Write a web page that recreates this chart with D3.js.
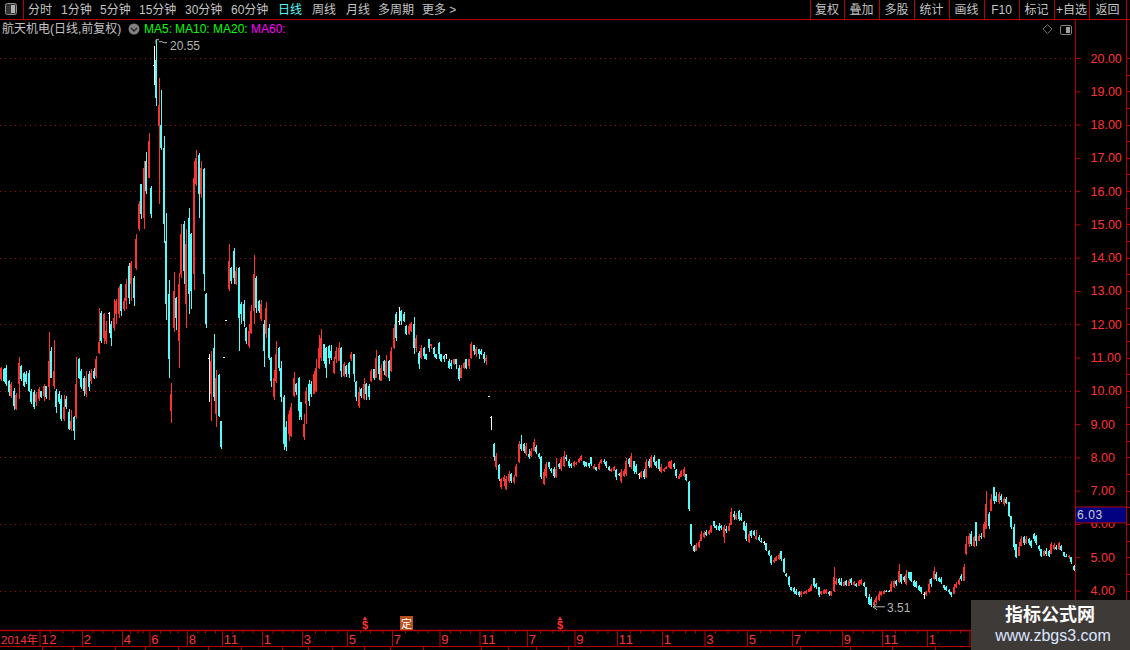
<!DOCTYPE html>
<html>
<head>
<meta charset="utf-8">
<style>
html, body { margin: 0; padding: 0; background: #000; overflow: hidden; }
svg { display: block; font-family: "Liberation Sans", "Noto Sans CJK SC", sans-serif; }
</style>
<script src="https://cdnjs.cloudflare.com/ajax/libs/d3/7.8.5/d3.min.js"></script>
</head>
<body>
<div id="chart"></div>
<script>
// [open, high, low, close], one array per stretch of the chart
var bars1 = [[10.35,10.73,10.3,10.7],[10.65,10.7,10.25,10.3],[10.7,10.78,10.15,10.2],[10.3,10.33,9.85,9.95],[9.85,10.27,9.78,10.2],[10.0,10.08,9.43,9.55],[9.45,9.93,9.43,9.88],[10.2,11.03,9.75,10.85],[10.75,10.78,10.3,10.35],[10.55,10.58,10.1,10.15],
[10.5,10.6,10.2,10.25],[10.55,10.63,9.95,10.0],[10.0,10.05,9.6,9.65],[9.95,10.03,9.45,9.5],[9.65,9.95,9.55,9.9],[9.75,10.12,9.7,10.05],[10.0,10.0,9.78,9.8],[9.85,10.2,9.7,10.15],[10.15,10.15,9.75,9.8],[10.1,11.76,9.73,10.9],
[11.2,11.33,10.38,10.4],[10.15,11.53,10.05,10.6],[10.0,10.05,9.33,9.5],[9.9,9.98,9.6,9.65],[9.75,9.88,9.08,9.15],[9.15,9.88,9.1,9.5],[9.75,9.85,9.45,9.5],[9.35,9.45,8.83,8.85],[8.85,9.43,8.78,9.1],[9.2,9.25,8.53,8.8],
[9.2,11.03,9.15,10.2],[10.95,11.0,10.35,10.4],[10.6,10.65,10.05,10.1],[10.4,10.45,9.85,10.0],[9.9,10.6,9.8,10.4],[10.5,10.6,10.0,10.1],[10.3,10.65,10.2,10.55],[10.6,10.68,10.35,10.4],[10.45,11.05,10.4,10.95],[11.13,12.5,11.1,11.48]];
var bars2 = [[12.35,12.4,11.45,11.5],[11.6,12.35,11.4,12.3],[11.5,12.1,11.4,11.8],[12.35,12.38,11.75,12.35],[12.0,12.1,11.35,11.6],[11.9,12.75,11.8,12.2],[12.3,12.75,12.0,12.7],[12.3,13.15,12.2,13.1],[13.2,13.2,12.25,12.4],[12.45,12.8,12.4,12.7],
[12.7,13.35,12.45,13.2],[13.75,13.83,12.6,12.8],[13.2,13.9,12.7,13.85],[13.4,13.45,12.55,12.8],[13.7,14.7,13.63,14.55],[14.85,15.7,14.8,15.6],[16.2,16.2,15.15,15.3],[15.2,16.9,14.85,16.7],[16.9,17.18,15.9,16.0],[16.4,17.75,16.4,17.5],
[16.1,16.15,15.2,15.3],[19.8,20.35,19.2,19.8],[19.95,20.55,18.55,18.8],[17.95,19.4,15.6,18.6],[18.0,19.05,17.25,17.3],[17.3,17.65,14.45,15.0],[14.5,15.35,12.13,12.6],[12.9,13.33,10.4,10.95],[9.4,10.23,9.03,9.9],[11.9,13.58,11.78,13.0],
[12.8,12.83,11.83,12.2],[11.5,13.53,10.68,13.2],[13.5,15.0,13.4,14.7],[15.0,15.1,13.2,13.6],[12.6,14.85,11.9,14.4],[15.2,15.5,12.3,12.9],[14.7,14.75,12.45,13.0],[13.5,16.9,13.03,16.4],[16.2,17.25,16.15,17.0],[17.1,17.15,15.2,15.9]];
var bars3 = [[15.9,16.9,15.8,16.7],[16.65,16.7,13.0,13.5],[12.9,12.93,11.9,12.0],[11.0,11.1,9.65,11.0],[9.9,11.2,9.1,10.9],[11.3,11.7,9.7,9.8],[9.3,10.63,8.9,10.4],[10.48,10.5,9.2,9.25],[9.1,9.1,8.25,8.3],[11.03,11.03,11.03,11.03],
[12.13,12.13,12.13,12.13],[13.05,14.4,13.0,13.9],[13.7,13.73,13.2,13.3],[14.2,14.28,13.2,13.4],[13.2,13.73,13.18,13.6],[13.7,13.73,11.2,12.2],[12.6,12.68,12.0,12.3],[12.6,12.73,11.93,12.1],[11.9,11.93,11.4,11.5],[11.35,12.0,11.28,11.8],
[11.75,12.57,11.7,12.4],[12.4,14.08,12.0,13.5],[13.4,13.45,12.35,12.5],[12.7,12.72,12.35,12.4],[12.15,12.72,12.1,12.6],[12.0,12.12,10.72,11.2],[11.7,12.67,11.6,12.5],[11.9,12.02,10.92,11.0],[11.0,11.02,10.12,10.3],[9.8,10.62,9.72,10.4],
[10.3,11.49,10.22,11.1],[11.3,11.32,10.6,10.7],[10.7,10.9,9.67,9.8],[9.8,9.87,8.22,8.4],[8.9,9.1,8.18,8.3],[8.7,9.42,8.5,9.3],[8.65,9.62,8.6,9.5],[9.85,10.57,9.8,10.4],[10.2,10.22,9.87,9.95],[10.4,10.42,9.12,9.4]];
var bars4 = [[9.65,9.67,9.12,9.2],[8.6,9.3,8.52,9.0],[9.6,10.12,9.0,10.0],[10.2,10.32,9.55,9.7],[10.2,10.3,9.8,9.9],[9.9,10.6,9.9,10.5],[10.0,10.97,9.97,10.7],[10.7,11.67,10.65,11.3],[11.0,11.85,10.9,11.6],[11.4,11.42,10.8,10.9],
[11.3,11.32,10.4,10.7],[11.35,11.37,10.82,11.0],[11.2,11.37,10.92,11.0],[10.55,11.02,10.52,10.9],[10.95,11.32,10.85,11.2],[10.9,11.47,10.9,11.3],[11.3,11.32,10.42,10.6],[10.45,10.87,10.42,10.8],[10.75,10.77,10.42,10.5],[10.85,10.87,10.37,10.5],
[10.95,11.17,10.9,11.1],[11.1,11.12,10.27,10.5],[10.25,10.3,9.7,9.8],[9.55,10.12,9.47,9.95],[10.05,10.07,9.77,9.85],[9.75,10.37,9.72,10.2],[10.2,10.22,9.72,9.9],[10.15,10.2,9.72,9.8],[10.3,10.67,10.27,10.6],[10.65,10.67,10.32,10.4],
[10.4,11.22,10.37,11.0],[11.05,11.07,10.32,10.5],[10.3,10.82,10.28,10.7],[10.9,10.92,10.47,10.6],[10.45,11.07,10.42,10.9],[10.9,10.92,10.28,10.4],[10.6,11.32,10.57,11.2],[11.3,12.02,11.27,11.9],[12.3,12.37,11.5,11.6],[12.1,12.52,11.97,12.1]];
var bars5 = [[12.4,12.42,11.97,12.1],[12.3,12.37,12.07,12.1],[11.95,11.97,11.67,11.7],[11.7,12.0,11.67,11.95],[11.8,12.07,11.77,12.05],[12.0,12.22,11.12,11.3],[11.3,11.67,11.17,11.6],[11.15,11.2,10.67,10.8],[11.0,11.37,10.97,11.3],[11.3,11.32,10.97,11.05],
[11.1,11.12,10.92,10.95],[11.55,11.57,11.17,11.3],[11.35,11.42,11.27,11.4],[11.3,11.32,11.02,11.1],[11.1,11.12,10.97,11.0],[11.45,11.47,10.97,11.1],[11.1,11.12,10.87,10.9],[11.05,11.07,10.87,10.95],[11.1,11.12,10.97,11.1],[10.9,10.97,10.67,10.7],
[10.85,10.92,10.67,10.75],[10.8,10.97,10.77,10.95],[10.95,10.97,10.67,10.8],[10.7,10.77,10.3,10.35],[10.4,10.77,10.37,10.7],[10.7,10.87,10.65,10.85],[10.95,10.97,10.67,10.7],[10.75,10.97,10.67,10.95],[11.0,11.47,10.97,11.4],[11.37,11.37,11.07,11.2],
[11.1,11.32,11.02,11.25],[11.25,11.27,10.97,11.1],[11.2,11.27,11.07,11.1],[11.1,11.17,10.85,10.95],[10.9,11.07,10.77,11.0],[9.85,9.85,9.85,9.85],[9.2,9.24,8.82,9.2],[8.4,8.42,7.88,8.0],[7.7,8.14,7.61,8.05],[7.78,7.79,7.29,7.35]];
var bars6 = [[7.1,7.39,7.04,7.35],[7.3,7.46,7.14,7.4],[7.05,7.44,7.01,7.35],[7.3,7.59,7.24,7.5],[7.5,7.54,7.22,7.3],[7.25,7.46,7.19,7.4],[7.45,7.79,7.4,7.75],[7.85,8.49,7.84,8.4],[8.4,8.66,8.19,8.25],[8.4,8.44,8.14,8.2],
[8.1,8.44,8.05,8.35],[8.1,8.24,7.94,8.0],[8.05,8.29,8.0,8.2],[8.2,8.54,8.19,8.45],[8.3,8.36,8.09,8.15],[8.1,8.14,7.95,8.0],[8.0,8.04,7.34,7.4],[7.2,7.66,7.18,7.55],[7.45,7.85,7.38,7.8],[7.85,7.86,7.64,7.7],
[7.65,7.69,7.54,7.6],[7.65,7.7,7.38,7.45],[7.4,7.98,7.38,7.65],[7.8,7.82,7.64,7.7],[7.65,8.0,7.6,7.95],[7.75,8.18,7.7,8.05],[8.0,8.06,7.89,7.95],[7.9,7.94,7.69,7.75],[7.8,7.84,7.69,7.75],[7.75,7.89,7.72,7.85],
[7.8,7.86,7.76,7.84],[7.85,7.99,7.82,7.95],[7.92,8.06,7.89,8.03],[7.88,7.89,7.72,7.78],[7.85,7.86,7.7,7.75],[7.82,7.84,7.68,7.75],[8.0,8.01,7.74,7.8],[7.65,7.8,7.64,7.75],[7.7,7.72,7.59,7.62],[7.64,7.86,7.62,7.8]];
var bars7 = [[7.82,7.94,7.8,7.92],[7.9,7.96,7.8,7.85],[7.85,7.89,7.69,7.75],[7.72,7.74,7.59,7.62],[7.6,7.68,7.56,7.66],[7.6,7.74,7.59,7.7],[7.62,7.66,7.32,7.4],[7.5,7.54,7.44,7.48],[7.3,7.64,7.24,7.55],[7.45,7.64,7.42,7.6],
[7.5,7.99,7.44,7.9],[7.95,7.99,7.7,7.8],[7.7,8.12,7.64,8.05],[7.88,7.89,7.49,7.6],[7.75,7.79,7.49,7.55],[7.5,7.54,7.34,7.5],[7.4,7.6,7.38,7.55],[7.6,7.64,7.34,7.4],[7.4,7.96,7.38,7.85],[7.9,7.94,7.69,7.75],
[7.7,8.06,7.68,8.0],[8.0,8.06,7.76,7.85],[7.85,7.89,7.69,7.75],[7.95,7.96,7.59,7.65],[7.55,7.79,7.54,7.7],[7.6,7.69,7.56,7.65],[7.65,7.74,7.64,7.72],[7.7,7.89,7.68,7.85],[7.65,7.92,7.64,7.88],[7.8,7.84,7.64,7.7],
[7.62,7.64,7.39,7.45],[7.35,7.49,7.34,7.45],[7.42,7.62,7.4,7.58],[7.45,7.72,7.42,7.65],[7.5,7.49,7.29,7.32],[7.25,7.28,6.39,6.45],[5.99,5.99,5.34,5.4],[5.35,5.38,5.16,5.2],[5.2,5.43,5.18,5.38],[5.3,5.52,5.28,5.45]];
var bars8 = [[5.5,5.78,5.48,5.7],[5.6,5.78,5.58,5.72],[5.75,5.83,5.63,5.68],[5.7,5.83,5.68,5.8],[5.75,5.98,5.73,5.93],[6.08,6.08,5.88,5.93],[5.95,5.98,5.83,5.88],[5.95,6.03,5.78,5.83],[5.95,5.98,5.83,5.88],[5.6,5.98,5.42,5.9],
[5.85,5.93,5.73,5.78],[5.8,6.03,5.78,5.95],[5.98,6.48,5.98,6.35],[6.3,6.38,6.13,6.2],[6.15,6.33,6.13,6.28],[6.4,6.43,6.08,6.15],[6.2,6.33,6.08,6.12],[6.05,6.08,5.78,5.82],[5.95,6.03,5.48,5.55],[5.45,5.78,5.43,5.7],
[5.8,5.83,5.58,5.65],[5.8,5.83,5.63,5.68],[5.55,5.83,5.53,5.65],[5.6,5.68,5.48,5.52],[5.5,5.58,5.43,5.47],[5.45,5.48,5.38,5.45],[5.42,5.43,5.18,5.22],[5.2,5.23,5.03,5.06],[5.05,5.07,4.77,4.82],[4.85,4.97,4.83,4.93],
[4.9,5.05,4.88,5.0],[4.95,5.13,4.93,5.08],[5.18,5.18,4.88,4.95],[4.95,4.97,4.52,4.56],[4.5,4.52,4.42,4.45],[4.4,4.43,4.12,4.18],[4.12,4.12,4.0,4.03],[4.08,4.1,3.9,3.95],[4.0,4.05,3.85,3.9],[3.95,4.0,3.8,3.85]];
var bars9 = [[3.85,4.0,3.8,3.95],[3.9,3.98,3.88,3.95],[3.92,4.02,3.9,3.98],[3.96,4.07,3.95,4.04],[4.0,4.2,3.98,4.15],[4.38,4.38,4.08,4.15],[4.2,4.22,4.05,4.1],[4.1,4.12,3.8,3.85],[3.88,4.0,3.85,3.97],[3.9,4.05,3.88,4.02],
[3.92,4.05,3.9,4.02],[3.95,3.97,3.83,3.88],[3.85,4.0,3.83,3.97],[3.97,4.72,3.96,4.4],[4.2,4.38,4.18,4.3],[4.35,4.38,4.18,4.22],[4.25,4.38,4.13,4.18],[4.15,4.3,4.13,4.25],[4.3,4.33,4.13,4.18],[4.15,4.35,4.13,4.3],
[4.35,4.38,4.18,4.22],[4.18,4.28,4.15,4.25],[4.2,4.23,4.1,4.14],[4.15,4.33,4.13,4.28],[4.2,4.35,4.18,4.32],[4.22,4.25,4.1,4.14],[4.1,4.12,3.78,3.82],[3.8,3.88,3.55,3.6],[3.75,3.8,3.51,3.56],[3.55,3.7,3.53,3.65],
[3.65,3.84,3.63,3.78],[3.7,3.98,3.68,3.9],[3.85,4.0,3.83,3.95],[3.9,4.03,3.88,4.0],[4.0,4.03,3.95,3.97],[4.0,4.03,3.95,3.98],[3.98,4.3,3.96,4.2],[4.1,4.32,4.08,4.28],[4.3,4.33,4.15,4.2],[4.25,4.8,4.23,4.6]];
var bars10 = [[4.5,4.5,4.2,4.25],[4.42,4.45,4.27,4.32],[4.2,4.62,4.18,4.5],[4.55,4.57,4.32,4.38],[4.55,4.57,4.25,4.3],[4.3,4.33,4.1,4.15],[4.25,4.28,4.08,4.12],[4.15,4.18,3.98,4.02],[4.1,4.1,3.9,3.95],[3.9,3.95,3.75,3.9],
[3.85,4.0,3.83,3.95],[3.95,4.35,3.93,4.2],[4.35,4.38,4.1,4.2],[4.35,4.72,4.33,4.6],[4.5,4.55,4.3,4.35],[4.38,4.4,4.25,4.3],[4.35,4.4,4.2,4.25],[4.18,4.18,4.03,4.07],[4.1,4.13,3.98,4.02],[4.03,4.05,3.9,3.94],
[3.95,3.95,3.8,3.85],[3.9,4.2,3.88,4.1],[4.1,4.25,4.08,4.2],[4.2,4.38,4.18,4.32],[4.45,4.5,4.3,4.35],[4.3,4.8,4.3,4.7],[5.1,5.63,5.08,5.4],[5.4,5.72,5.3,5.65],[5.7,5.8,5.35,5.4],[5.35,5.65,5.3,5.6],
[6.05,6.05,5.35,5.5],[5.5,5.7,5.48,5.65],[5.65,5.72,5.55,5.6],[5.6,6.05,5.58,6.0],[5.85,7.0,5.84,6.6],[6.3,6.35,5.85,5.95],[6.4,6.9,6.38,6.75],[7.1,7.1,6.6,6.7],[6.85,6.95,6.65,6.7],[6.65,6.95,6.6,6.9]];
var bars11 = [[6.85,6.9,6.65,6.72],[6.6,6.8,6.55,6.75],[6.75,6.8,6.6,6.62],[6.65,6.65,6.2,6.25],[6.25,6.25,5.85,5.9],[5.9,6.0,5.23,5.3],[5.4,5.4,4.98,5.02],[5.05,5.45,5.03,5.3],[5.35,5.65,5.33,5.55],[5.6,5.63,5.38,5.42],
[5.42,5.63,5.4,5.55],[5.55,5.58,5.38,5.42],[5.5,5.53,5.28,5.35],[5.7,5.72,5.5,5.55],[5.65,5.67,5.38,5.42],[5.35,5.37,5.2,5.25],[5.25,5.25,5.0,5.05],[5.05,5.22,5.03,5.18],[5.2,5.27,5.05,5.1],[5.2,5.22,5.02,5.05],
[5.1,5.45,5.1,5.4],[5.25,5.42,5.23,5.37],[5.3,5.38,5.22,5.25],[5.25,5.45,5.23,5.42],[5.35,5.38,5.18,5.22],[5.15,5.17,5.0,5.03],[5.05,5.1,5.0,5.03],[5.0,5.08,4.95,5.05],[5.0,5.0,4.8,4.85],[4.75,4.78,4.6,4.63]];

var priceTicks = [4,5,6,7,8,9,10,11,12,13,14,15,16,17,18,19,20];
var gridPrices = [4,6,8,10,12,14,16,18,20];
var monthLabels = ["12","2","4","6","8","11","1","3","5","7","9","11","7","9","11","1","3","5","7","9","11","1","3"];
var monthBars = [16,33,49,60,75,89,105,121,139,157,176,192,211,230,247,265,282,299,317,337,353,371,388];
var firstLabel = "2014年";
var menuLabels = ["分时","1分钟","5分钟","15分钟","30分钟","60分钟","日线","周线","月线","多周期","更多 >"];
var menuLefts = [28,61,100,139,185,231,278,312,346,378,422];
var buttonLabels = ["复权","叠加","多股","统计","画线","F10","标记","+自选","返回"];
var buttonEdges = [810,844,879,914,949,984,1019,1054,1089,1126];
var tabEdges = [42,73,115,145,178,208,241,282,308,332,364,390,423,481,508,536,568,800,850,892,935];
var maLabels = ["MA5:","MA10:","MA20:","MA60:"];
var maLefts = [144,175,213,251];
var maColors = ["#00ff00","#00ff00","#00ff00","#ff00ff"];
var dividendBars = [146,224];
var placementBar = 162;
var highMark = {bar: 62, price: 20.55};
var lowMark = {bar: 348, price: 3.51};
var cursorPrice = 6.03;

var bars = [].concat(bars1,bars2,bars3,bars4,bars5,bars6,bars7,bars8,bars9,bars10,bars11);

var totalWidth = 1130, totalHeight = 650, plotRight = 1075, axisTop = 630, axisBottom = 646;
var lineRed = "#b80000", textRed = "#ff3232", upRed = "#ff3232", downCyan = "#54fcfc", menuGrey = "#c4c4c4";

var x = d3.scaleBand().domain(d3.range(bars.length)).range([0, plotRight]);
var y = d3.scaleLinear().domain([4, 20]).range([590.5, 58]);

var svg = d3.select("#chart").append("svg").attr("width", totalWidth).attr("height", totalHeight);
svg.append("rect").attr("width", totalWidth).attr("height", totalHeight).attr("fill", "#000");

// dotted price grid
svg.append("g").selectAll("line").data(gridPrices).join("line")
    .attr("x1", 0).attr("x2", plotRight)
    .attr("y1", function(d) { return Math.round(y(d)) + 0.5; })
    .attr("y2", function(d) { return Math.round(y(d)) + 0.5; })
    .attr("stroke", "#a01010").attr("stroke-dasharray", "1,4");

// candles
function barColor(d) {
    if (d[3] > d[0]) return upRed;
    if (d[3] < d[0]) return downCyan;
    return "#ffffff";
}
var candle = svg.append("g").attr("shape-rendering", "crispEdges")
    .selectAll("g").data(bars).join("g");
candle.append("rect")
    .attr("x", function(d, i) { return Math.round(x(i) + x.bandwidth() / 2); })
    .attr("width", 1)
    .attr("y", function(d) { return y(d[1]); })
    .attr("height", function(d) { return Math.max(1, y(d[2]) - y(d[1])); })
    .attr("fill", barColor);
candle.append("rect")
    .attr("x", function(d, i) { return Math.round(x(i) + x.bandwidth() / 2) - 1; })
    .attr("width", 2)
    .attr("y", function(d) { return y(Math.max(d[0], d[3])); })
    .attr("height", function(d) { return Math.max(1, Math.abs(y(d[0]) - y(d[3]))); })
    .attr("fill", barColor);

// high and low notes
var hx = x(highMark.bar) + 1, hy = y(highMark.price);
svg.append("path")
    .attr("d", "M" + hx + "," + (hy + 4) + "v-4h3M" + (hx + 3) + "," + (hy + 2) + "l3,0l2,1l3,0")
    .attr("fill", "none").attr("stroke", "#b4b4b4");
svg.append("text").attr("x", hx + 14).attr("y", hy + 10).attr("fill", "#b4b4b4").attr("font-size", 12)
    .text(highMark.price.toFixed(2));
var lx = x(lowMark.bar) + 3, ly = y(lowMark.price);
svg.append("path")
    .attr("d", "M" + lx + "," + ly + "h12M" + (lx + 4) + "," + (ly - 3) + "l-4,3l4,3")
    .attr("fill", "none").attr("stroke", "#b4b4b4");
svg.append("text").attr("x", lx + 14).attr("y", ly + 5).attr("fill", "#b4b4b4").attr("font-size", 12)
    .text(lowMark.price.toFixed(2));

// price axis on the right
var yAxis = d3.axisRight(y).tickValues(priceTicks).tickSize(5).tickPadding(10).tickFormat(d3.format(".2f"));
var yG = svg.append("g").attr("transform", "translate(" + (plotRight + 0.5) + ",0)").call(yAxis);
yG.select(".domain").remove();
yG.selectAll("line").attr("stroke", lineRed);
yG.selectAll("text").attr("fill", textRed).attr("font-size", 12.5).attr("font-family", "Liberation Sans");
svg.append("line").attr("x1", plotRight + 0.5).attr("x2", plotRight + 0.5).attr("y1", 19).attr("y2", axisTop)
    .attr("stroke", lineRed);
svg.append("line").attr("x1", 1126.5).attr("x2", 1126.5).attr("y1", 19).attr("y2", axisTop).attr("stroke", lineRed);
svg.append("g").selectAll("line").data(d3.range(4, 20.5, 0.5)).join("line")
    .attr("x1", 1127).attr("x2", 1130)
    .attr("y1", function(d) { return Math.round(y(d)) + 0.5; })
    .attr("y2", function(d) { return Math.round(y(d)) + 0.5; })
    .attr("stroke", lineRed);

// cursor price box
var boxBottom = y(cursorPrice);
svg.append("rect").attr("x", 1075.5).attr("y", boxBottom - 16).attr("width", 51).attr("height", 16)
    .attr("fill", "#000080").attr("stroke", lineRed);
svg.append("text").attr("x", 1077).attr("y", boxBottom - 4).attr("fill", "#d0d0d0").attr("font-size", 12)
    .attr("letter-spacing", "0.6px").text(cursorPrice.toFixed(2));

// month axis at the bottom
var monthAxis = d3.axisBottom(x).tickValues(monthBars).tickSize(axisBottom - axisTop).tickPadding(-14)
    .tickFormat(function(d, i) { return monthLabels[i]; });
var xG = svg.append("g").attr("transform", "translate(0," + (axisTop + 0.5) + ")").call(monthAxis);
xG.select(".domain").remove();
xG.selectAll("line").attr("stroke", lineRed)
    .attr("transform", "translate(" + (-x.bandwidth() / 2) + ",0)");
xG.selectAll("text").attr("fill", textRed).attr("font-size", 13).attr("text-anchor", "start")
    .attr("letter-spacing", "0.8px").attr("dy", 0).attr("y", 13).attr("x", 0);
svg.append("text").attr("x", 1).attr("y", axisTop + 13.5).attr("fill", textRed).attr("font-size", 11.5).text(firstLabel);
svg.append("line").attr("x1", 0).attr("x2", totalWidth).attr("y1", axisTop + 0.5).attr("y2", axisTop + 0.5)
    .attr("stroke", lineRed).attr("stroke-width", 1.5);
svg.append("line").attr("x1", 0).attr("x2", totalWidth).attr("y1", axisBottom + 0.5).attr("y2", axisBottom + 0.5)
    .attr("stroke", lineRed);

// short ticks between the months
var shortTicks = [];
monthBars.forEach(function(b, i) {
    var next = monthBars[i + 1] || bars.length;
    shortTicks.push(b + (next - b) / 4, b + (next - b) / 2, b + (next - b) * 3 / 4);
});
svg.append("g").selectAll("line").data(shortTicks).join("line")
    .attr("x1", function(d) { return x(Math.round(d)) + 0.5; })
    .attr("x2", function(d) { return x(Math.round(d)) + 0.5; })
    .attr("y1", axisTop).attr("y2", axisTop + 3.5).attr("stroke", lineRed);

// tab edges under the axis, cut by the window
svg.append("g").selectAll("line").data(tabEdges).join("line")
    .attr("x1", function(d) { return d + 0.5; }).attr("x2", function(d) { return d + 0.5; })
    .attr("y1", axisBottom).attr("y2", totalHeight).attr("stroke", lineRed);

// dividend and placement marks
var marks = svg.append("g");
marks.selectAll("text").data(dividendBars).join("text")
    .attr("x", function(d) { return x(d); }).attr("y", axisTop - 1)
    .attr("text-anchor", "middle").attr("font-size", 11).attr("font-weight", "bold").attr("fill", textRed).text("$");
marks.selectAll("path").data(dividendBars).join("path")
    .attr("d", d3.symbol(d3.symbolTriangle, 9))
    .attr("transform", function(d) { return "translate(" + x(d) + "," + (axisTop - 11) + ")"; })
    .attr("fill", textRed);
svg.append("rect").attr("x", x(placementBar) - 5).attr("y", axisTop - 14).attr("width", 13).attr("height", 14)
    .attr("fill", "#b8501c");
svg.append("text").attr("x", x(placementBar) + 1.5).attr("y", axisTop - 2.5).attr("text-anchor", "middle")
    .attr("font-size", 11).attr("fill", "#ffffff").text("定");

// top menu bar
svg.append("line").attr("x1", 0).attr("x2", totalWidth).attr("y1", 19.5).attr("y2", 19.5).attr("stroke", lineRed);
svg.append("line").attr("x1", 23.5).attr("x2", 23.5).attr("y1", 0).attr("y2", 19).attr("stroke", lineRed);
svg.append("rect").attr("x", 5.5).attr("y", 3.5).attr("width", 11).attr("height", 11).attr("rx", 2)
    .attr("fill", "#333").attr("stroke", "#909090");
svg.append("rect").attr("x", 11).attr("y", 5).attr("width", 4).attr("height", 8).attr("fill", "#b0b0b0");
svg.append("g").selectAll("text").data(menuLabels).join("text")
    .attr("x", function(d, i) { return menuLefts[i]; }).attr("y", 14).attr("font-size", 12)
    .attr("fill", function(d) { return d === "日线" ? "#54fcfc" : menuGrey; }).text(function(d) { return d; });
svg.append("g").selectAll("line").data(buttonEdges).join("line")
    .attr("x1", function(d) { return d + 0.5; }).attr("x2", function(d) { return d + 0.5; })
    .attr("y1", 0).attr("y2", 19).attr("stroke", lineRed);
svg.append("g").selectAll("text").data(buttonLabels).join("text")
    .attr("x", function(d, i) { return (buttonEdges[i] + buttonEdges[i + 1]) / 2; })
    .attr("y", 14).attr("font-size", 12).attr("text-anchor", "middle").attr("fill", menuGrey)
    .text(function(d) { return d; });

// title row
svg.append("text").attr("x", 2).attr("y", 33).attr("font-size", 12).attr("fill", menuGrey).text("航天机电(日线,前复权)");
svg.append("circle").attr("cx", 134).attr("cy", 29).attr("r", 5.5).attr("fill", "#808080");
svg.append("path").attr("d", "M131,28l3,3l3,-3").attr("fill", "none").attr("stroke", "#222").attr("stroke-width", 1.3);
svg.append("g").selectAll("text").data(maLabels).join("text")
    .attr("x", function(d, i) { return maLefts[i]; }).attr("y", 33).attr("font-size", 12)
    .attr("fill", function(d, i) { return maColors[i]; }).text(function(d) { return d; });
svg.append("path").attr("d", "M1047.5,24.5l4.5,4.5l-4.5,4.5l-4.5,-4.5z").attr("fill", "none").attr("stroke", "#707070");
svg.append("rect").attr("x", 1060.5).attr("y", 25.5).attr("width", 11).attr("height", 9).attr("rx", 1.5)
    .attr("fill", "none").attr("stroke", "#808080");
svg.append("rect").attr("x", 1066).attr("y", 27).attr("width", 4).attr("height", 6).attr("fill", "#a0a0a0");

// watermark of the site the picture came from
svg.append("rect").attr("x", 971).attr("y", 600).attr("width", 159).attr("height", 50).attr("fill", "#3e3a38");
svg.append("text").attr("x", 1050).attr("y", 621).attr("text-anchor", "middle").attr("font-size", 18)
    .attr("font-weight", "bold").attr("fill", "#ffffff").text("指标公式网");
svg.append("text").attr("x", 1053).attr("y", 641).attr("text-anchor", "middle").attr("font-size", 16)
    .attr("fill", "#dce6ff").text("www.zbgs3.com");
</script>
</body>
</html>
